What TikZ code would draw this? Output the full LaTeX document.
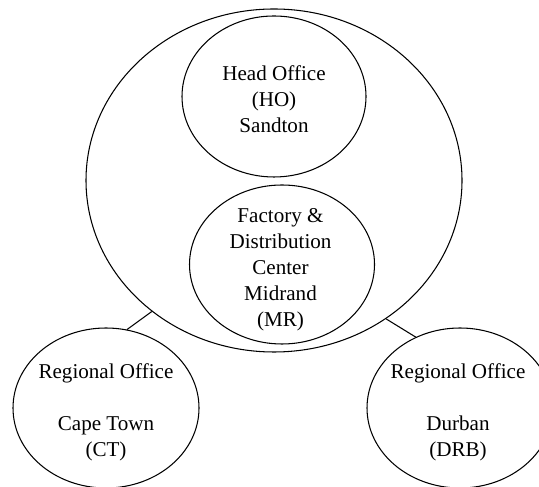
\documentclass[tikz,border=0pt]{standalone}
\usepackage{fontspec}
\setmainfont{Liberation Serif}
\usepackage{tikz}
\usetikzlibrary{shapes.geometric}

\begin{document}
\begin{tikzpicture}[
  site/.style = {ellipse, draw, line width=0.6pt, inner sep=0pt},
  sitetext/.style = {align=center, font=\fontsize{12}{14.8}\selectfont}]
\useasboundingbox (0,0) rectangle (10.78,9.74);
\clip (0,0) rectangle (10.78,9.74);
\node[site, minimum width=7.52cm, minimum height=6.86cm] (group) at (5.48,6.13) {};
\node[site, minimum width=3.68cm, minimum height=3.22cm] (ho) at (5.48,7.81) {};
\node[site, minimum width=3.70cm, minimum height=3.18cm] (mr) at (5.64,4.45) {};
\node[site, minimum width=3.72cm, minimum height=3.20cm] (ct) at (2.12,1.58) {};
\node[site, minimum width=3.72cm, minimum height=3.20cm] (drb) at (9.20,1.58) {};
\node[sitetext] (hotext) at ([yshift=-0.05cm]ho) {Head Office\\(HO)\\Sandton};
\node[sitetext] (mrtext) at ([xshift=-0.03cm,yshift=-0.1cm]mr) {Factory \&\\Distribution\\Center\\Midrand\\(MR)};
\node[sitetext] (cttext) at ([yshift=-0.09cm]ct) {Regional Office\\~\\Cape Town\\(CT)};
\node[sitetext] (drbtext) at ([xshift=-0.04cm,yshift=-0.09cm]drb) {Regional Office\\~\\Durban\\(DRB)};
\draw[line width=0.6pt] (ct.75) -- (group.227);
\draw[line width=0.6pt] (drb.122) -- (group.309);
\end{tikzpicture}
\end{document}
